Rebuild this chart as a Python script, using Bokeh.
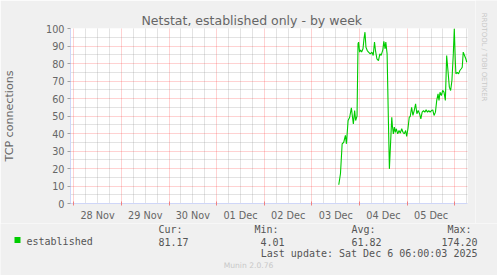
import math
from bokeh.plotting import figure
from bokeh.layouts import column, row
from bokeh.models import FixedTicker, Label, Range1d
from bokeh.embed import file_html
from bokeh.resources import INLINE

# ---- data (hours since 28 Nov 00:00) ----
hours = [133.5, 134.35, 135.2, 136.0, 136.85, 137.35, 138.2, 139.0, 139.85, 140.2,
         140.85, 141.5, 142.0, 142.7, 143.2, 143.5, 144.0, 144.5, 145.0, 145.7,
         146.2, 146.7, 147.2, 147.85, 148.5, 149.35, 150.2, 150.85, 151.5, 152.0,
         152.7, 153.5, 154.2, 154.85, 155.7, 156.2, 156.85, 157.2, 157.85, 158.5,
         159.0, 159.5, 160.2, 160.5, 161.0, 161.5, 162.0, 162.5, 163.2, 163.85,
         164.5, 165.2, 165.85, 166.5, 167.2, 167.7, 168.35, 169.0, 169.5, 170.2,
         170.85, 171.5, 172.2, 172.85, 173.5, 174.2, 174.85, 175.5, 176.2, 176.85,
         177.5, 178.2, 178.85, 179.5, 180.2, 180.85, 181.5, 182.2, 182.85, 183.5,
         184.0, 184.5, 185.2, 185.85, 186.5, 187.2, 187.85, 188.5, 189.2, 189.85,
         190.5, 191.2, 191.7, 192.2, 192.5, 193.2, 193.85, 194.5, 195.2, 195.7,
         196.2, 196.85, 197.5, 198.0]
established = [10.7, 17.0, 34.1, 35.0, 38.9, 34.1, 47.4, 49.3, 54.7, 51.3,
               45.5, 53.1, 47.4, 50.0, 91.3, 92.2, 86.5, 87.8, 86.5, 88.4,
               94.1, 97.9, 89.3, 87.4, 86.5, 85.5, 86.5, 84.6, 92.2, 87.4,
               82.7, 81.7, 85.5, 84.6, 87.8, 92.7, 88.4, 92.2, 85.5, 47.4,
               19.8, 32.2, 49.3, 44.6, 39.8, 43.6, 40.7, 42.7, 39.8, 41.7,
               40.2, 42.7, 40.7, 39.8, 41.7, 38.3, 42.7, 49.3, 49.7, 55.0,
               50.3, 53.1, 57.0, 51.3, 53.1, 51.3, 48.4, 52.2, 53.1, 52.2,
               53.5, 52.2, 53.1, 52.2, 53.1, 53.5, 50.3, 52.2, 58.9, 62.7,
               58.9, 63.6, 61.7, 64.6, 63.6, 58.9, 84.6, 76.0, 66.5, 64.6,
               70.3, 85.5, 100.0, 81.7, 74.1, 75.0, 74.1, 76.0, 77.0, 77.9,
               86.5, 84.6, 82.7, 80.7]

day_labels = ["28 Nov", "29 Nov", "30 Nov", "01 Dec", "02 Dec", "03 Dec", "04 Dec", "05 Dec"]
y_tick_values = [0, 10, 20, 30, 40, 50, 60, 70, 80, 90, 100]
stat_names = ["Cur:", "Min:", "Avg:", "Max:"]
stat_values = ["81.17", "4.01", "61.82", "174.20"]
series_name = "established"
title_text = "Netstat, established only - by week"
y_label_text = "TCP connections"
last_update = "Last update: Sat Dec  6 06:00:03 2025"
footer = "Munin 2.0.76"
watermark = "RRDTOOL / TOBI OETIKER"

FONT = "#666666"
AXIS = "#CFD6F8"
BACK = "#F0F0F0"
GREEN = "#00CC00"

noon_hours = [12 + 24 * i for i in range(len(day_labels))]
midnight_hours = [24 * i for i in range(len(day_labels) + 1)]
six_hours = [h for h in range(6, 199, 6) if h % 24 != 0]

p = figure(width=475, height=223, output_backend="svg", toolbar_location=None,
           x_range=Range1d(-1.65, 198.35), y_range=Range1d(0, 100),
           min_border_left=67, min_border_right=8, min_border_top=28, min_border_bottom=20,
           background_fill_color="white", border_fill_color=BACK,
           outline_line_color=None, frame_align=False)

# title
p.title.text = title_text
p.title.align = "left"
p.title.offset = 71
p.title.standoff = 1
p.title.text_font = "DejaVu Sans"
p.title.text_font_size = "12.5px"
p.title.text_font_style = "normal"
p.title.text_color = FONT

# x axis
p.xaxis.ticker = FixedTicker(ticks=noon_hours, minor_ticks=midnight_hours)
p.xaxis.major_label_overrides = {h: lab for h, lab in zip(noon_hours, day_labels)}
p.xaxis.major_tick_line_color = None
p.xaxis.major_tick_out = 0
p.xaxis.major_tick_in = 0
p.xaxis.minor_tick_line_color = "#F08080"
p.xaxis.minor_tick_in = 2
p.xaxis.minor_tick_out = 2
p.xaxis.axis_line_color = AXIS
p.xaxis.major_label_standoff = 4
p.xaxis.major_label_text_font = "DejaVu Sans"
p.xaxis.major_label_text_font_size = "9.7px"
p.xaxis.major_label_text_color = FONT

# y axis
p.yaxis.ticker = FixedTicker(ticks=y_tick_values, minor_ticks=[])
p.yaxis.major_tick_out = 3
p.yaxis.major_tick_in = 0
p.yaxis.major_tick_line_color = "#A0A0A0"
p.yaxis.minor_tick_line_color = None
p.yaxis.axis_line_color = AXIS
p.yaxis.major_label_standoff = 3
p.yaxis.major_label_text_font = "DejaVu Sans"
p.yaxis.major_label_text_font_size = "9.7px"
p.yaxis.major_label_text_color = FONT
p.yaxis.axis_label = y_label_text
p.yaxis.axis_label_text_font = "DejaVu Sans"
p.yaxis.axis_label_text_font_size = "11.1px"
p.yaxis.axis_label_text_font_style = "normal"
p.yaxis.axis_label_text_color = FONT
p.yaxis.axis_label_standoff = 27

# grids
p.xgrid.ticker = FixedTicker(ticks=midnight_hours, minor_ticks=six_hours)
p.ygrid.ticker = FixedTicker(ticks=y_tick_values[1:], minor_ticks=[v + 5 for v in y_tick_values[:-1]])
for g in (p.xgrid, p.ygrid):
    g.grid_line_color = "#FF2020"
    g.grid_line_alpha = 0.4
    g.grid_line_dash = "1 1"
    g.minor_grid_line_color = "#909090"
    g.minor_grid_line_alpha = 0.5
    g.minor_grid_line_dash = "1 1"

p.line(hours, established, line_color=GREEN, line_width=1.1)

# ---- watermark strip on the right (coordinates are page pixels) ----
w = figure(width=22, height=223, output_backend="svg", toolbar_location=None,
           x_range=Range1d(475, 497), y_range=Range1d(223, 0),
           min_border=0, min_border_left=0, min_border_right=0, min_border_top=0, min_border_bottom=0,
           background_fill_color=BACK, border_fill_color=BACK,
           outline_line_color=None, frame_align=False)
w.axis.visible = False
w.grid.visible = False
w.add_layout(Label(x=483, y=56.5, text=watermark, angle=-math.pi / 2,
                   text_font="DejaVu Sans", text_font_size="6.9px", text_color="#C8C8C8",
                   text_align="center", text_baseline="alphabetic"))

# ---- legend strip (coordinates are page pixels) ----
q = figure(width=497, height=52, output_backend="svg", toolbar_location=None,
           x_range=Range1d(0, 497), y_range=Range1d(275, 223),
           min_border=0, min_border_left=0, min_border_right=0, min_border_top=0, min_border_bottom=0,
           background_fill_color=BACK, border_fill_color=BACK,
           outline_line_color=None, frame_align=False)
q.axis.visible = False
q.grid.visible = False


def lab(text, x, y, size, font="DejaVu Sans Mono", color="#555555", align="left"):
    q.add_layout(Label(x=x, y=y, text=text, text_font=font, text_font_size=size,
                       text_color=color, text_align=align, text_baseline="alphabetic"))


header_x = [158, 254, 351, 447]
value_x = [158, 260, 351, 441]
for name, x in zip(stat_names, header_x):
    lab(name, x, 229, "10px")
for v, x in zip(stat_values, value_x):
    lab(v, x, 241.3, "10px")
lab(series_name, 26, 241.3, "10px")
q.quad(left=[14], right=[20], top=[236.5], bottom=[242.5], fill_color=GREEN, line_color=None)
lab(last_update, 483, 253, "10px", align="right")
lab(footer, 248, 264.5, "7.6px", font="DejaVu Sans", color="#C8C8C8", align="center")

layout = column(row(p, w, spacing=0), q, spacing=0)
open("out.html", "w").write(file_html(layout, INLINE))
